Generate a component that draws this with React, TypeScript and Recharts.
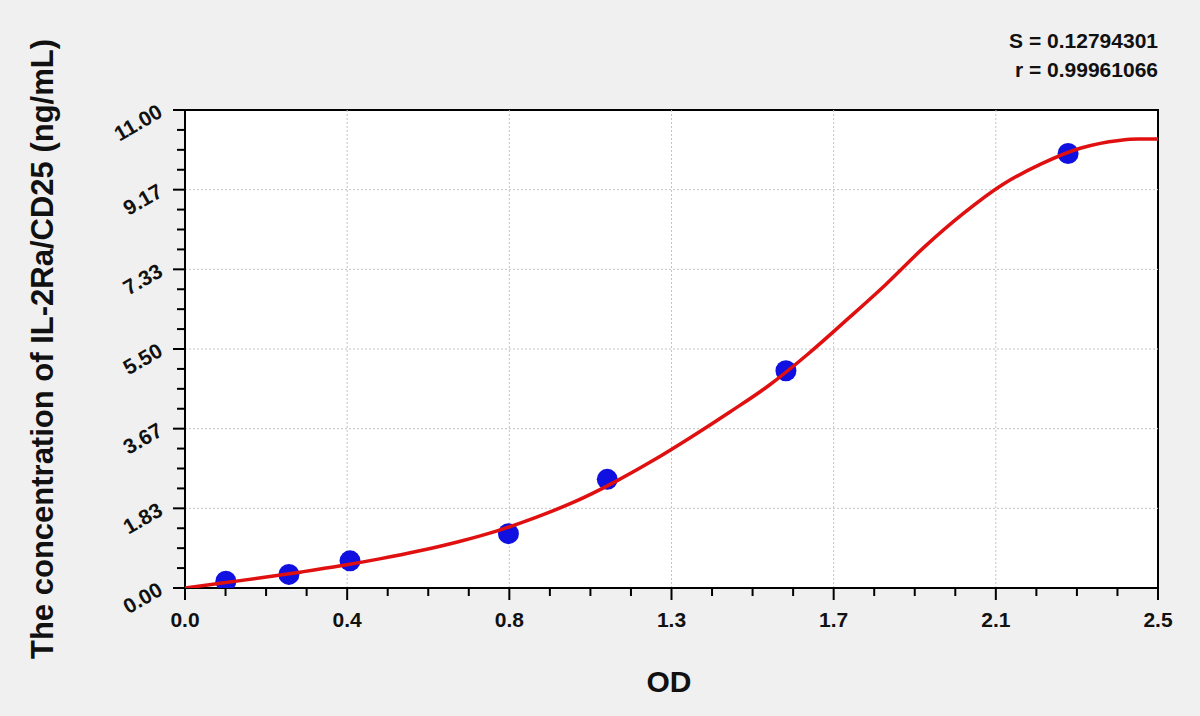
import React from 'react';
import {
  ComposedChart,
  Line,
  Scatter,
  XAxis,
  YAxis,
  ReferenceLine,
  ReferenceArea,
} from 'recharts';

// ---- data ----
const pointOD = [0.105, 0.267, 0.424, 0.831, 1.085, 1.544, 2.269];
const pointConc = [0.156, 0.312, 0.625, 1.25, 2.5, 5, 10];

const curveOD = [0, 0.1, 0.2, 0.3, 0.4, 0.5, 0.6, 0.7, 0.8, 0.9, 1.0, 1.1, 1.2, 1.3, 1.4, 1.5, 1.6, 1.7, 1.8, 1.9, 2.0, 2.1, 2.2, 2.3, 2.4, 2.45, 2.5];
const curveConc = [0, 0.12, 0.24, 0.37, 0.51, 0.67, 0.85, 1.06, 1.31, 1.62, 1.98, 2.42, 2.92, 3.47, 4.05, 4.66, 5.38, 6.17, 6.98, 7.85, 8.62, 9.28, 9.76, 10.12, 10.3, 10.33, 10.33];

const xTickLabels = ['0.0', '0.4', '0.8', '1.3', '1.7', '2.1', '2.5'];
const yTickLabels = ['0.00', '1.83', '3.67', '5.50', '7.33', '9.17', '11.00'];

const X_MAX = 2.5;
const Y_MAX = 11;
const SUB = 4;

const xMajor = xTickLabels.map((_, i) => (i * X_MAX) / (xTickLabels.length - 1));
const yMajor = yTickLabels.map((_, i) => (i * Y_MAX) / (yTickLabels.length - 1));
const xAllTicks = Array.from({ length: (xTickLabels.length - 1) * SUB + 1 }, (_, i) => (i * X_MAX) / ((xTickLabels.length - 1) * SUB));
const yAllTicks = Array.from({ length: (yTickLabels.length - 1) * SUB + 1 }, (_, i) => (i * Y_MAX) / ((yTickLabels.length - 1) * SUB));

const points = pointOD.map((od, i) => ({ od, conc: pointConc[i] }));
const curve = curveOD.map((od, i) => ({ od, conc: curveConc[i] }));

const FONT = "'Liberation Sans', Arial, sans-serif";

const XTick = (props: any) => {
  const { x, y, index } = props;
  const isMajor = index % SUB === 0;
  return (
    <g>
      <line x1={x} x2={x} y1={y} y2={y + (isMajor ? 12 : 8)} stroke="#000" strokeWidth={2} />
      {isMajor && (
        <text x={x} y={y + 39} textAnchor="middle" fontFamily={FONT} fontWeight="bold" fontSize={21} fill="#111">
          {xTickLabels[index / SUB]}
        </text>
      )}
    </g>
  );
};

const YTick = (props: any) => {
  const { x, y, index } = props;
  const isMajor = index % SUB === 0;
  const tx = x - 21;
  const ty = y + 6;
  return (
    <g>
      <line x1={x - (isMajor ? 12 : 8)} x2={x} y1={y} y2={y} stroke="#000" strokeWidth={2} />
      {isMajor && (
        <text
          x={tx}
          y={ty}
          textAnchor="end"
          transform={`rotate(-30, ${tx}, ${ty})`}
          fontFamily={FONT}
          fontWeight="bold"
          fontSize={21}
          fill="#111"
        >
          {yTickLabels[index / SUB]}
        </text>
      )}
    </g>
  );
};

const Dot = (props: any) => {
  const { cx, cy } = props;
  return <circle cx={cx} cy={cy} r={10.5} fill="#1010e0" />;
};

export default function App() {
  return (
    <div style={{ position: 'absolute', left: 0, top: 0, width: 1200, height: 716, background: '#f0f0f0', fontFamily: FONT }}>
      <ComposedChart
        width={1200}
        height={716}
        margin={{ top: 110, right: 42, bottom: 98, left: 125 }}
      >
        <ReferenceArea x1={0} x2={X_MAX} y1={0} y2={Y_MAX} fill="#ffffff" fillOpacity={1} stroke="#000" strokeWidth={2} />
        {xMajor.slice(1, -1).map((v) => (
          <ReferenceLine key={'vx' + v} x={v} stroke="#c4c4c4" strokeDasharray="2 2" strokeWidth={1} />
        ))}
        {yMajor.slice(1, -1).map((v) => (
          <ReferenceLine key={'hy' + v} y={v} stroke="#c4c4c4" strokeDasharray="2 2" strokeWidth={1} />
        ))}
        <XAxis
          type="number"
          dataKey="od"
          domain={[0, X_MAX]}
          ticks={xAllTicks}
          interval={0}
          tickSize={0}
          tickMargin={0}
          height={30}
          axisLine={{ stroke: '#000', strokeWidth: 2 }}
          tickLine={false}
          tick={<XTick />}
          allowDataOverflow
        />
        <YAxis
          type="number"
          dataKey="conc"
          domain={[0, Y_MAX]}
          ticks={yAllTicks}
          interval={0}
          tickSize={0}
          tickMargin={0}
          width={60}
          axisLine={{ stroke: '#000', strokeWidth: 2 }}
          tickLine={false}
          tick={<YTick />}
          allowDataOverflow
        />
        <Scatter data={points} dataKey="conc" shape={<Dot />} isAnimationActive={false} />
        <Line
          data={curve}
          dataKey="conc"
          type="monotone"
          stroke="#e01010"
          strokeWidth={3.5}
          dot={false}
          activeDot={false}
          isAnimationActive={false}
          zIndex={700}
        />
      </ComposedChart>
      <div style={{ position: 'absolute', right: 42, top: 26, textAlign: 'right', fontWeight: 'bold', fontSize: 21, lineHeight: '29px', color: '#111' }}>
        <div>S = 0.12794301</div>
        <div>r = 0.99961066</div>
      </div>
      <div style={{ position: 'absolute', left: 669, top: 682, transform: 'translate(-50%, -50%)', fontWeight: 'bold', fontSize: 30, color: '#111' }}>
        OD
      </div>
      <div
        style={{
          position: 'absolute',
          left: 43,
          top: 349,
          transform: 'translate(-50%, -50%) rotate(-90deg)',
          whiteSpace: 'nowrap',
          fontWeight: 'bold',
          fontSize: 31,
          color: '#111',
        }}
      >
        The concentration of IL-2Ra/CD25 (ng/mL)
      </div>
    </div>
  );
}
